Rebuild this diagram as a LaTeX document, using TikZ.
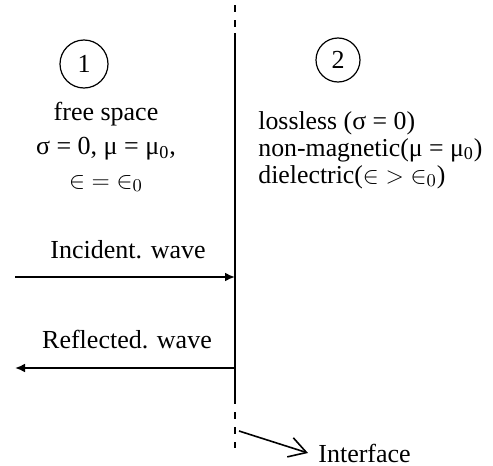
\documentclass[tikz,border=0pt]{standalone}
\usepackage{fontspec}
\setmainfont{Liberation Serif}
\usetikzlibrary{arrows.meta,positioning}

\begin{document}
\begin{tikzpicture}[x=0.5pt,y=-0.5pt,
    region/.style={circle,draw,line width=0.6pt,inner sep=0pt,font=\fontsize{13}{13}\selectfont},
    note/.style={inner sep=0pt,font=\fontsize{13}{17}\selectfont},
    medium/.style={inner sep=0pt,align=left,font=\fontsize{12.9}{13.4}\selectfont},
    wave/.style={-{Latex[length=5pt,width=4.4pt]},line width=0.9pt}]
    \useasboundingbox (0,0) rectangle (493,466);
    % the interface between the two media
    \coordinate (top) at (235,5);
    \coordinate (solidtop) at (235,33);
    \coordinate (solidbot) at (235,397);
    \coordinate (bot) at (235,448);
    \draw[line width=0.8pt,dash pattern=on 3.5pt off 4pt] (top) -- (solidtop);
    \draw[line width=0.9pt] (solidtop) -- (solidbot);
    \draw[line width=0.8pt,dash pattern=on 3.5pt off 4pt] (solidbot) -- (bot);
    % medium 1
    \node[region,minimum size=24pt] (one) at (84,64) {1};
    \node[note,align=center] (free) at (106,147) {free space\\σ = 0, μ = μ\textsubscript{0},\\${\in} = {\in_0}$};
    % medium 2
    \node[region,minimum size=22pt] (two) at (338,60) {2};
    \node[medium,anchor=west] (lossless) at (258,150) {lossless (σ = 0)\\non-magnetic(μ = μ\textsubscript{0})\\dielectric(${\in} > {\in_0}$)};
    % waves
    \coordinate (incA) at (15,277);
    \coordinate (incB) at (235,277);
    \coordinate (refA) at (235,368);
    \coordinate (refB) at (15,368);
    \node[note] (inc) at (128,250) {Incident. wave};
    \node[note] (ref) at (127,340) {Reflected. wave};
    \draw[wave] (incA) -- (incB);
    \draw[wave] (refA) -- (refB);
    % pointer to the interface
    \coordinate (ifstart) at (239,431);
    \node[note,anchor=west,inner xsep=5pt] (iface) at (308,453) {Interface};
    \draw[-{Straight Barb[length=8.5pt,width=10pt]},line width=0.8pt] (ifstart) -- (iface.west);
\end{tikzpicture}
\end{document}
